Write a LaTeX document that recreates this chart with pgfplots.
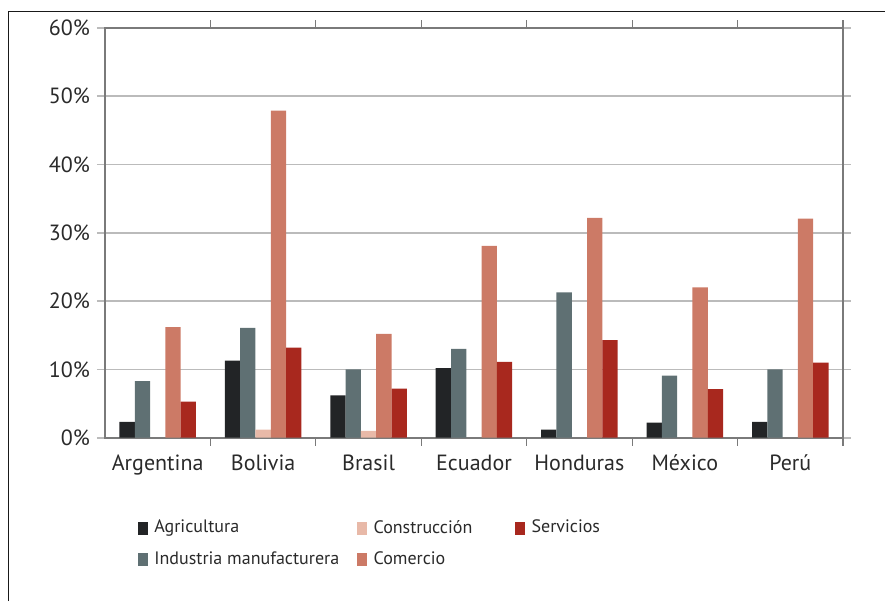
\documentclass[border=0pt]{standalone}
\usepackage{pgfplots}
\pgfplotsset{compat=1.18}
\usepackage{fontspec}
\setmainfont{PT Sans}
\definecolor{agri}{HTML}{222426}
\definecolor{indu}{HTML}{5F7073}
\definecolor{cons}{HTML}{E8B9A8}
\definecolor{come}{HTML}{CC7A66}
\definecolor{serv}{HTML}{A8281E}
\definecolor{gridc}{HTML}{BBBBBB}
\definecolor{axc}{HTML}{7A7A7A}
\definecolor{txt}{HTML}{2A2A2A}
\begin{document}
\begin{tikzpicture}[font=\fontsize{11}{13}\selectfont, text=txt]
\path[use as bounding box] (0,0) rectangle (442.5pt,300.5pt);
\draw[line width=0.7pt, black!90] (4.35pt,0) -- (4.35pt,294.6pt) -- (442.5pt,294.6pt);
\begin{axis}[
  at={(52.5pt,81.65pt)}, anchor=south west, scale only axis,
  width=369pt, height=204.85pt,
  xmin=-0.5, xmax=6.5, ymin=0, ymax=60,
  ybar, bar width=7.65pt,
  xtick={0,...,6},
  xticklabels={Argentina,Bolivia,Brasil,Ecuador,Honduras,México,Perú},
  minor xtick={0.5,1.5,...,6.5},
  major x tick style={draw=none},
  minor x tick style={axc, line width=0.6pt},
  minor tick length=4pt,
  ytick={0,10,...,60},
  yticklabels={0\%,10\%,20\%,30\%,40\%,50\%,60\%},
  y tick style={gridc, line width=0.9pt},
  major tick length=4pt,
  tick align=outside,
  ymajorgrids, grid style={gridc, line width=0.9pt},
  axis line style={axc, line width=0.8pt},
  xticklabel style={text=txt, yshift=-1pt},
  yticklabel style={text=txt},
  legend columns=3,
  legend image code/.code={\fill[#1,draw=none] (0pt,-3.25pt) rectangle (5pt,3.25pt); \path (8pt,0pt);},
  legend style={draw=none, fill=none, inner sep=0pt, outer sep=0pt,
    at={(axis description cs:0.0447,-0.201)}, anchor=north west,
    row sep=8pt, column sep=0pt,
    font=\fontsize{9}{11}\selectfont,
    nodes={inner sep=0pt, anchor=west, text=txt}},
]
\addplot[fill=agri, draw=none, bar shift=-15.3pt, forget plot] coordinates {(0,2.3) (1,11.3) (2,6.2) (3,10.2) (4,1.2) (5,2.2) (6,2.3)};
\addplot[fill=indu, draw=none, bar shift=-7.65pt, forget plot] coordinates {(0,8.3) (1,16.1) (2,10.0) (3,13.0) (4,21.3) (5,9.1) (6,10.0)};
\addplot[fill=cons, draw=none, bar shift=0pt, forget plot] coordinates {(1,1.2) (2,1.0)};
\addplot[fill=come, draw=none, bar shift=7.65pt, forget plot] coordinates {(0,16.2) (1,47.9) (2,15.2) (3,28.1) (4,32.2) (5,22.0) (6,32.1)};
\addplot[fill=serv, draw=none, bar shift=15.3pt, forget plot] coordinates {(0,5.3) (1,13.2) (2,7.2) (3,11.1) (4,14.3) (5,7.1) (6,11.0)};
\addlegendimage{fill=agri}\addlegendentry{Agricultura}
\addlegendimage{fill=cons}\addlegendentry{Construcción\hspace*{21.4pt}}
\addlegendimage{fill=serv}\addlegendentry{Servicios}
\addlegendimage{fill=indu}\addlegendentry{Industria manufacturera\hspace*{9pt}}
\addlegendimage{fill=come}\addlegendentry{Comercio}
\end{axis}
\end{tikzpicture}
\end{document}
